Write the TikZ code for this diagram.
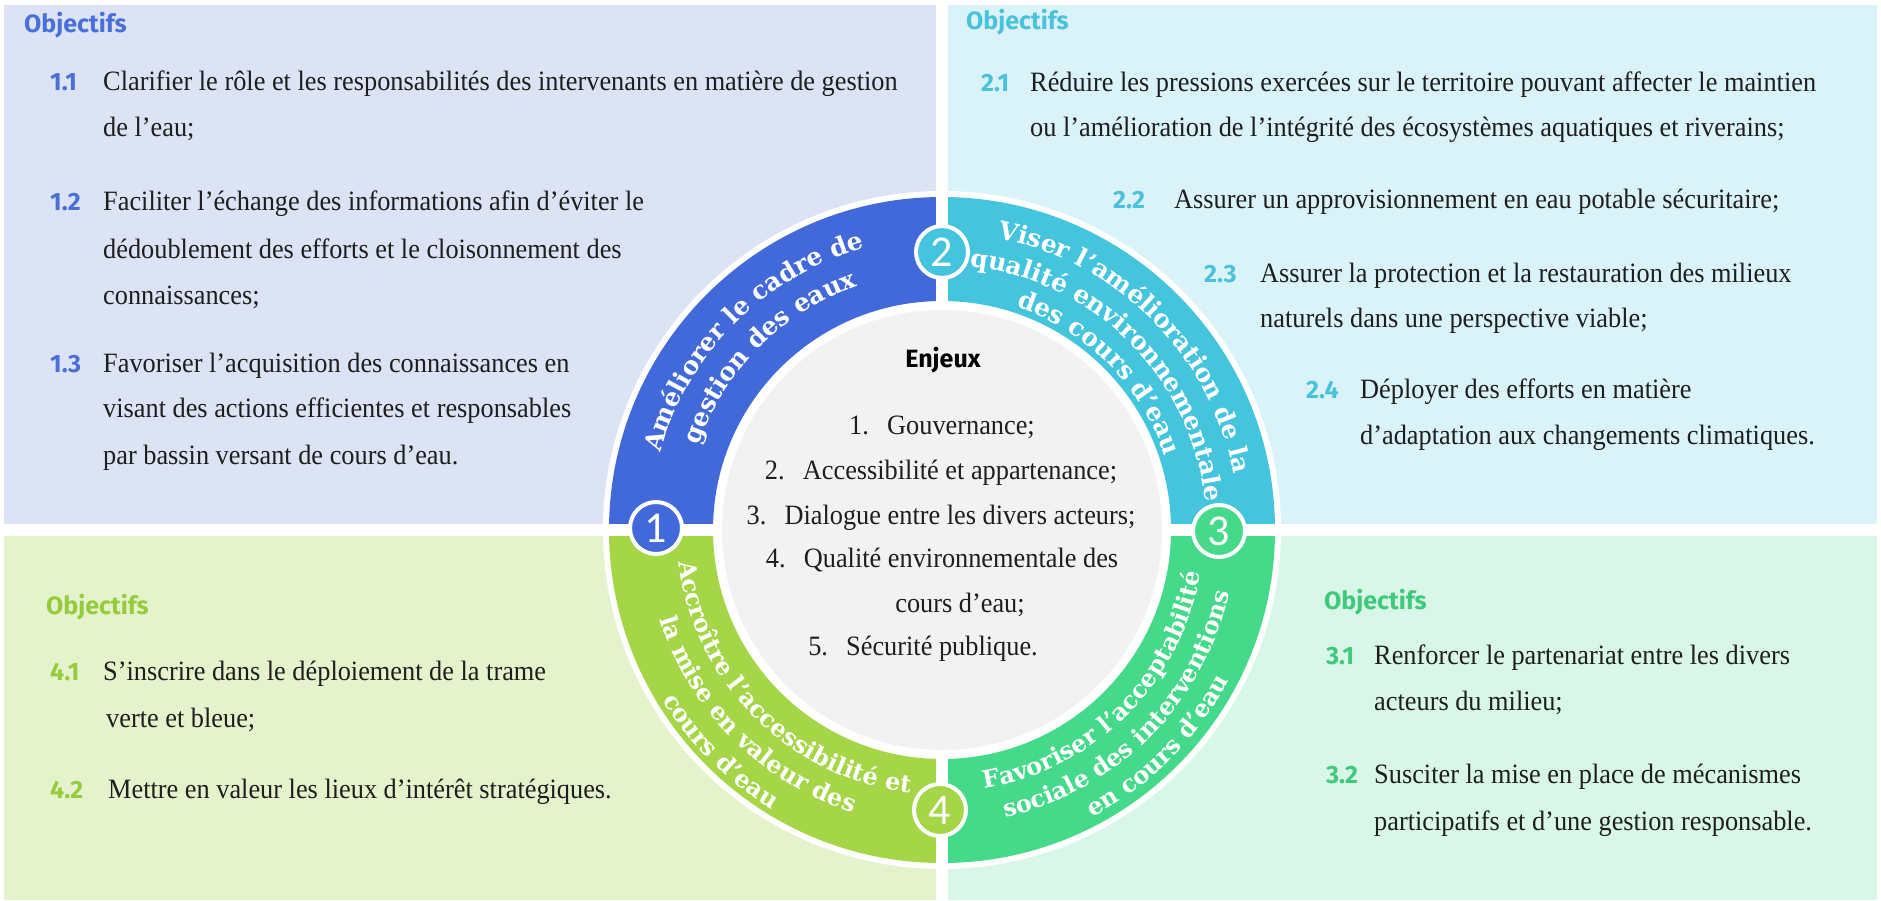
\documentclass[tikz,border=0pt]{standalone}
\usepackage{fontspec}
\setmainfont{Liberation Serif}[FakeStretch=0.94]
\newfontfamily\comic{Fira Sans}
\newfontfamily\ringf{DejaVu Serif}
\newfontfamily\numf{Carlito}
\usetikzlibrary{decorations.text}
\definecolor{pTL}{HTML}{DBE3F5}
\definecolor{pTR}{HTML}{D9F3F9}
\definecolor{pBL}{HTML}{E4F3CB}
\definecolor{pBR}{HTML}{D8F7E8}
\definecolor{cBlue}{HTML}{4169DA}
\definecolor{cCyan}{HTML}{45C4DD}
\definecolor{cGreen}{HTML}{45D98A}
\definecolor{cLime}{HTML}{A4D647}
\definecolor{tBlue}{HTML}{4A6FD8}
\definecolor{tCyan}{HTML}{4BC2DC}
\definecolor{tLime}{HTML}{97CB3E}
\definecolor{tGreen}{HTML}{3FC97B}
\definecolor{grayc}{HTML}{F2F2F3}
\definecolor{ink}{HTML}{1E1E1E}
\tikzset{
  body/.style={anchor=mid west, inner sep=0pt, font=\fontsize{28}{34}\selectfont, text=ink},
  cbody/.style={anchor=mid, inner sep=0pt, font=\fontsize{28}{34}\selectfont, text=ink},
  numlab/.style={anchor=mid west, inner sep=0pt, font=\comic\bfseries\fontsize{25}{30}\selectfont},
  objlab/.style={anchor=mid west, inner sep=0pt, font=\comic\bfseries\fontsize{25}{30}\selectfont},
  badge/.style={circle, minimum size=52pt, inner sep=0pt, draw=white, line width=4pt, text=white, font=\numf\fontsize{44}{44}\selectfont},
}
\newcommand\nb[1]{\makebox[38pt][l]{#1}}
\newcommand\rtA{\ringf\bfseries\fontsize{25}{25}\selectfont}
\newcommand\rtB{\ringf\bfseries\fontsize{24}{24}\selectfont}
\begin{document}
\begin{tikzpicture}[x=1pt,y=1pt]
\useasboundingbox (0,0) rectangle (1881,-900);
\fill[white] (0,0) rectangle (1881,-900);
% panels
\fill[pTL] (4,-5) rectangle (936,-524);
\fill[pTR] (948,-5) rectangle (1877,-524);
\fill[pBL] (4,-536) rectangle (936,-900);
\fill[pBR] (948,-536) rectangle (1877,-900);
\coordinate (C) at (942,-530);
\begin{scope}[shift={(942,-530)}]
  \fill[white] (0,0) circle[radius=339];
  \fill[cBlue] (180:333) arc[start angle=180,end angle=90,radius=333] -- (90:229) arc[start angle=90,end angle=180,radius=229] -- cycle;
  \fill[cCyan] (90:333) arc[start angle=90,end angle=0,radius=333] -- (0:229) arc[start angle=0,end angle=90,radius=229] -- cycle;
  \fill[cGreen] (0:333) arc[start angle=0,end angle=-90,radius=333] -- (-90:229) arc[start angle=-90,end angle=0,radius=229] -- cycle;
  \fill[cLime] (-90:333) arc[start angle=-90,end angle=-180,radius=333] -- (-180:229) arc[start angle=-180,end angle=-90,radius=229] -- cycle;
  \draw[white, line width=12pt] (0,345) -- (0,-345) (-345,0) -- (345,0);
  \fill[grayc] (0,0) circle[radius=220];
  % ring texts
  \path[decorate, decoration={text along path, text align=center, text color=white,
     text={|\rtA|Améliorer le cadre de}}]
     (178:292) arc[start angle=178, end angle=92, radius=292];
  \path[decorate, decoration={text along path, text align=center, text color=white,
     text={|\rtA|gestion des eaux}}]
     (178:258) arc[start angle=178, end angle=92, radius=258];
  \path[decorate, decoration={text along path, text align=center, text color=white,
     text={|\rtA|Viser l’amélioration de la}}]
     (89:297) arc[start angle=89, end angle=1, radius=297];
  \path[decorate, decoration={text along path, text align=center, text color=white,
     text={|\rtA|qualité environnementale}}]
     (89:265) arc[start angle=89, end angle=1, radius=265];
  \path[decorate, decoration={text along path, text align=center, text color=white,
     text={|\rtA|des cours d’eau}}]
     (89:235) arc[start angle=89, end angle=1, radius=235];
  \path[decorate, decoration={text along path, text align=center, text color=white,
     text={|\rtB|Favoriser l’acceptabilité}}]
     (-89:262) arc[start angle=-89, end angle=-1, radius=262];
  \path[decorate, decoration={text along path, text align=center, text color=white,
     text={|\rtB|sociale des interventions}}]
     (-89:294) arc[start angle=-89, end angle=-1, radius=294];
  \path[decorate, decoration={text along path, text align=center, text color=white,
     text={|\rtB|en cours d’eau}}]
     (-89:324) arc[start angle=-89, end angle=-1, radius=324];
  \path[decorate, decoration={text along path, text align=center, text color=white,
     text={|\rtB|Accroître l’accessibilité et}}]
     (181:265) arc[start angle=181, end angle=269, radius=265];
  \path[decorate, decoration={text along path, text align=center, text color=white,
     text={|\rtB|la mise en valeur des}}]
     (181:296) arc[start angle=181, end angle=269, radius=296];
  \path[decorate, decoration={text along path, text align=center, text color=white,
     text={|\rtB|cours d’eau}}]
     (181:327) arc[start angle=181, end angle=269, radius=327];
\end{scope}
% badges
\node[badge, fill=cBlue] (b1) at (656,-528) {1};
\node[badge, fill=cCyan] (b2) at (942,-252) {2};
\node[badge, fill=cGreen] (b3) at (1219,-531) {3};
\node[badge, fill=cLime] (b4) at (940,-810) {4};
% centre
\node[anchor=mid, inner sep=0pt, font=\comic\bfseries\fontsize{25}{30}\selectfont, text=black] (enj) at (943,-365) {Enjeux};
\node[cbody] (e1) at (942,-432) {\nb{1.}Gouvernance;};
\node[cbody] (e2) at (941,-477) {\nb{2.}Accessibilité et appartenance;};
\node[cbody] (e3) at (941,-522) {\nb{3.}Dialogue entre les divers acteurs;};
\node[cbody] (e4) at (942,-565) {\nb{4.}Qualité environnementale des};
\node[cbody] (e4b) at (960,-610) {cours d’eau;};
\node[cbody] (e5) at (923,-653) {\nb{5.}Sécurité publique.};
% top-left
\node[objlab, text=tBlue] (o1) at (24,-30) {Objectifs};
\node[numlab, text=tBlue] (n11) at (50,-88) {1.1};
\node[body] (t11a) at (103,-88) {Clarifier le rôle et les responsabilités des intervenants en matière de gestion};
\node[body] (t11b) at (103,-134) {de l’eau;};
\node[numlab, text=tBlue] (n12) at (50,-208) {1.2};
\node[body] (t12a) at (103,-208) {Faciliter l’échange des informations afin d’éviter le};
\node[body] (t12b) at (103,-256) {dédoublement des efforts et le cloisonnement des};
\node[body] (t12c) at (103,-302) {connaissances;};
\node[numlab, text=tBlue] (n13) at (50,-370) {1.3};
\node[body] (t13a) at (103,-370) {Favoriser l’acquisition des connaissances en};
\node[body] (t13b) at (103,-415) {visant des actions efficientes et responsables};
\node[body] (t13c) at (103,-462) {par bassin versant de cours d’eau.};
% top-right
\node[objlab, text=tCyan] (o2) at (966,-27) {Objectifs};
\node[numlab, text=tCyan] (n21) at (981,-89) {2.1};
\node[body] (t21a) at (1030,-89) {Réduire les pressions exercées sur le territoire pouvant affecter le maintien};
\node[body] (t21b) at (1030,-134) {ou l’amélioration de l’intégrité des écosystèmes aquatiques et riverains;};
\node[numlab, text=tCyan] (n22) at (1113,-206) {2.2};
\node[body] (t22a) at (1174,-206) {Assurer un approvisionnement en eau potable sécuritaire;};
\node[numlab, text=tCyan] (n23) at (1204,-280) {2.3};
\node[body] (t23a) at (1260,-280) {Assurer la protection et la restauration des milieux};
\node[body] (t23b) at (1260,-325) {naturels dans une perspective viable;};
\node[numlab, text=tCyan] (n24) at (1306,-396) {2.4};
\node[body] (t24a) at (1360,-396) {Déployer des efforts en matière};
\node[body] (t24b) at (1360,-442) {d’adaptation aux changements climatiques.};
% bottom-left
\node[objlab, text=tLime] (o4) at (46,-612) {Objectifs};
\node[numlab, text=tLime] (n41) at (50,-678) {4.1};
\node[body] (t41a) at (103,-678) {S’inscrire dans le déploiement de la trame};
\node[body] (t41b) at (106,-725) {verte et bleue;};
\node[numlab, text=tLime] (n42) at (50,-796) {4.2};
\node[body] (t42a) at (108,-796) {Mettre en valeur les lieux d’intérêt stratégiques.};
% bottom-right
\node[objlab, text=tGreen] (o3) at (1324,-607) {Objectifs};
\node[numlab, text=tGreen] (n31) at (1326,-662) {3.1};
\node[body] (t31a) at (1374,-662) {Renforcer le partenariat entre les divers};
\node[body] (t31b) at (1374,-708) {acteurs du milieu;};
\node[numlab, text=tGreen] (n32) at (1326,-781) {3.2};
\node[body] (t32a) at (1374,-781) {Susciter la mise en place de mécanismes};
\node[body] (t32b) at (1374,-828) {participatifs et d’une gestion responsable.};
\end{tikzpicture}
\end{document}
